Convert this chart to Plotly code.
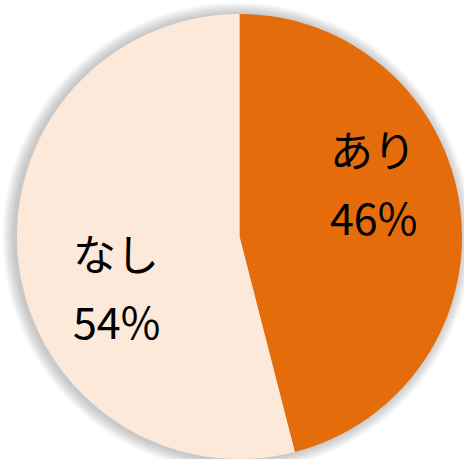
import plotly.graph_objects as go

labels = ["あり", "なし"]
values = [46, 54]
colors = ["#E46C0A", "#FDE9D9"]

W, H = 464, 459
cx, cy, r = 239.5, 236.5, 222.5  # pie centre and radius in pixels

fig = go.Figure(go.Pie(
    labels=labels,
    values=values,
    sort=False,
    direction="clockwise",
    rotation=0,
    marker=dict(colors=colors, line=dict(width=0)),
    textinfo="none",
    hoverinfo="label+percent",
    domain=dict(x=[(cx - r) / W, (cx + r) / W], y=[1 - (cy + r) / H, 1 - (cy - r) / H]),
    showlegend=False,
))

# soft grey glow around the pie, falling slightly towards the left
shapes = []
sx, sy = cx - 2.5, cy + 0.5
for k in range(12, 0, -1):
    rr = r + k
    shapes.append(dict(
        type="circle", xref="paper", yref="paper", layer="below",
        x0=(sx - rr) / W, x1=(sx + rr) / W,
        y0=1 - (sy + rr) / H, y1=1 - (sy - rr) / H,
        fillcolor="rgba(110,110,110,0.035)", line=dict(width=0),
    ))

total = sum(values)
# label positions (pixels) for name line and percent line of each slice
label_pos = [(373, 148, 216), (116, 252, 320)]
font = dict(family="Noto Sans CJK JP", size=43, color="black")
annotations = []
for lab, v, (lx, ly1, ly2) in zip(labels, values, label_pos):
    annotations.append(dict(text=lab, x=lx / W, y=1 - ly1 / H, xref="paper", yref="paper",
                            showarrow=False, font=font, xanchor="center", yanchor="middle"))
    annotations.append(dict(text=f"{round(v / total * 100)}%", x=lx / W, y=1 - ly2 / H,
                            xref="paper", yref="paper", showarrow=False, font=font,
                            xanchor="center", yanchor="middle"))

fig.update_layout(
    width=W, height=H,
    margin=dict(l=0, r=0, t=0, b=0),
    paper_bgcolor="white", plot_bgcolor="white",
    shapes=shapes, annotations=annotations,
)

fig.write_html("out.html")
